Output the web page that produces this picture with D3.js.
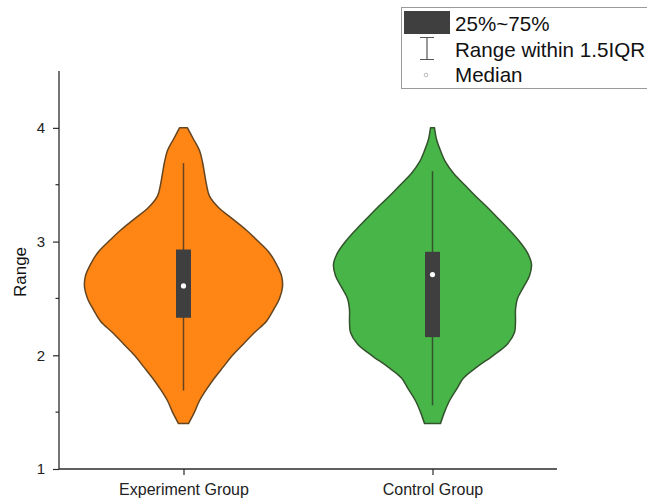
<!DOCTYPE html>
<html>
<head>
<meta charset="utf-8">
<script src="https://cdn.jsdelivr.net/npm/d3@7"></script>
<style>
  html, body { margin: 0; padding: 0; background: #fff; }
  svg { display: block; font-family: "Liberation Sans", Arial, sans-serif; }
</style>
</head>
<body>
<svg id="chart" width="647" height="501"></svg>
<script>
// Groups and the value grid the kernel densities are sampled on
const categories = ["Experiment Group", "Control Group"];
const gridValues = [1.4, 1.5, 1.6, 1.7, 1.8, 1.9, 2.0, 2.1, 2.2, 2.3, 2.4, 2.5, 2.6, 2.7,
                    2.8, 2.9, 3.0, 3.1, 3.2, 3.3, 3.4, 3.5, 3.6, 3.7, 3.8, 3.9, 4.0];
// Relative density of each group at every grid value
const experimentDensity = [0.05, 0.11, 0.16, 0.23, 0.31, 0.40, 0.49, 0.60, 0.71, 0.83, 0.90, 0.96, 0.99, 0.98,
                           0.93, 0.86, 0.75, 0.63, 0.49, 0.35, 0.26, 0.23, 0.21, 0.19, 0.16, 0.10, 0.04];
const controlDensity    = [0.08, 0.12, 0.17, 0.24, 0.31, 0.45, 0.61, 0.75, 0.82, 0.83, 0.83, 0.85, 0.91, 0.97,
                           0.99, 0.95, 0.87, 0.77, 0.66, 0.55, 0.43, 0.32, 0.21, 0.13, 0.08, 0.04, 0.02];
// Box statistics per group
const q1Values       = [2.33, 2.16];
const q3Values       = [2.93, 2.91];
const medianValues   = [2.61, 2.71];
const whiskerLow     = [1.69, 1.56];
const whiskerHigh    = [3.69, 3.62];
// Axis ticks
const majorTicks = [1, 2, 3, 4];
const minorTicks = [1.5, 2.5, 3.5];
const legendLabels = ["25%~75%", "Range within 1.5IQR", "Median"];

const fills   = ["#FF8515", "#48B548"];
const strokes = ["#654520", "#33532D"];

const svg = d3.select("#chart");
const plotLeft = 59, plotRight = 557, plotTop = 71, plotBottom = 469;

const x = d3.scalePoint().domain(categories).range([plotLeft, plotRight]).padding(0.5);
const y = d3.scaleLinear().domain([1, 4.5]).range([plotBottom, plotTop]);
const w = d3.scaleLinear().domain([0, 1]).range([0, 100]);

const groups = [experimentDensity, controlDensity];

// Violins
categories.forEach((cat, i) => {
  const cx = x(cat);
  const pts = gridValues.map((v, k) => ({ v, d: groups[i][k] }));
  const area = d3.area()
    .curve(d3.curveCatmullRom.alpha(0.5))
    .y(d => y(d.v))
    .x0(d => cx - w(d.d))
    .x1(d => cx + w(d.d));
  svg.append("path")
    .attr("d", area(pts))
    .attr("fill", fills[i])
    .attr("stroke", strokes[i])
    .attr("stroke-width", 1.5)
    .attr("stroke-linejoin", "round");

  // Whisker
  svg.append("line")
    .attr("x1", cx).attr("x2", cx)
    .attr("y1", y(whiskerHigh[i])).attr("y2", y(whiskerLow[i]))
    .attr("stroke", strokes[i]).attr("stroke-width", 1.5);

  // Interquartile box
  svg.append("rect")
    .attr("x", cx - 7.5).attr("width", 15)
    .attr("y", y(q3Values[i])).attr("height", y(q1Values[i]) - y(q3Values[i]))
    .attr("fill", "#3F3F3F");

  // Median
  svg.append("circle")
    .attr("cx", cx).attr("cy", y(medianValues[i])).attr("r", 2.6)
    .attr("fill", "#fff");
});

// Y axis
const yAxis = svg.append("g").attr("transform", `translate(${plotLeft},0)`)
  .call(d3.axisLeft(y).tickValues(majorTicks).tickSize(6).tickPadding(8).tickFormat(d3.format("d")));
yAxis.select(".domain").attr("d", `M0,${plotTop}V${plotBottom}`).attr("stroke", "#2b2b2b").attr("stroke-width", 1.3);
yAxis.selectAll(".tick line").attr("stroke", "#2b2b2b").attr("stroke-width", 1.2);
yAxis.selectAll(".tick text").attr("font-size", 15).attr("fill", "#222")
  .attr("font-family", "Liberation Sans, Arial, sans-serif");
yAxis.selectAll(".minor").data(minorTicks).enter().append("line")
  .attr("x1", -3.5).attr("x2", 0)
  .attr("y1", d => y(d)).attr("y2", d => y(d))
  .attr("stroke", "#2b2b2b").attr("stroke-width", 1.2);

// X axis
const xAxis = svg.append("g").attr("transform", `translate(0,${plotBottom})`)
  .call(d3.axisBottom(x).tickSize(6).tickPadding(9));
xAxis.select(".domain").attr("d", `M${plotLeft},0H${plotRight}`).attr("stroke", "#2b2b2b").attr("stroke-width", 1.3);
xAxis.selectAll(".tick line").attr("stroke", "#2b2b2b").attr("stroke-width", 1.2);
xAxis.selectAll(".tick text").attr("font-size", 16).attr("fill", "#222")
  .attr("font-family", "Liberation Sans, Arial, sans-serif");

// Y title
svg.append("text")
  .attr("transform", `translate(26,272) rotate(-90)`)
  .attr("text-anchor", "middle")
  .attr("font-size", 17).attr("fill", "#111")
  .text("Range");

// Legend
const lg = svg.append("g");
lg.append("rect").attr("x", 401.5).attr("y", 7.5).attr("width", 260).attr("height", 81)
  .attr("fill", "#fff").attr("stroke", "#9a9a9a").attr("stroke-width", 1);
lg.append("rect").attr("x", 404).attr("y", 11).attr("width", 46).attr("height", 23).attr("fill", "#3F3F3F");
lg.append("path").attr("d", "M420,37.5H434M427,37.5V59.5M420,59.5H434")
  .attr("fill", "none").attr("stroke", "#555").attr("stroke-width", 1.2);
lg.append("circle").attr("cx", 426).attr("cy", 75).attr("r", 1.8)
  .attr("fill", "#fff").attr("stroke", "#aaa").attr("stroke-width", 0.8);
lg.selectAll(".lt").data(legendLabels).enter().append("text")
  .attr("x", 455).attr("y", (d, i) => 31 + i * 25.5)
  .attr("font-size", 20.6).attr("fill", "#111")
  .text(d => d);
</script>
</body>
</html>
